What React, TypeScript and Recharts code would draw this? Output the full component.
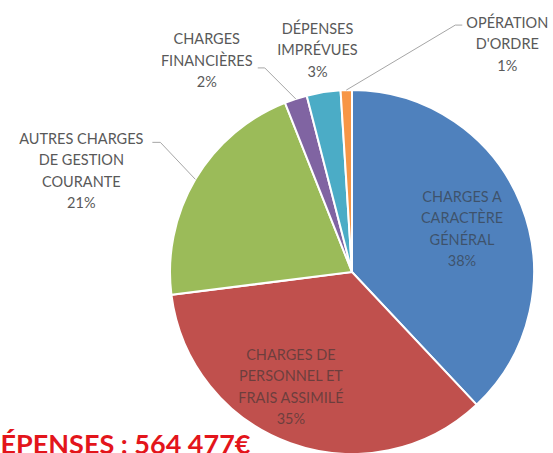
import { PieChart, Pie, Cell } from 'recharts';

const CATEGORIES = [
  'CHARGES A CARACTÈRE GÉNÉRAL',
  'CHARGES DE PERSONNEL ET FRAIS ASSIMILÉ',
  'AUTRES CHARGES DE GESTION COURANTE',
  'CHARGES FINANCIÈRES',
  'DÉPENSES IMPRÉVUES',
  "OPÉRATION D'ORDRE",
];
const LABEL_LINES = [
  ['CHARGES A', 'CARACTÈRE', 'GÉNÉRAL'],
  ['CHARGES DE', 'PERSONNEL ET', 'FRAIS ASSIMILÉ'],
  ['AUTRES CHARGES', 'DE GESTION', 'COURANTE'],
  ['CHARGES', 'FINANCIÈRES'],
  ['DÉPENSES', 'IMPRÉVUES'],
  ['OPÉRATION', "D'ORDRE"],
];
const SHARES = [38, 35, 21, 2, 3, 1];
const COLORS = ['#4F81BD', '#C0504D', '#9BBB59', '#8064A2', '#4BACC6', '#F79646'];
const TOTAL_LABEL = 'DÉPENSES : 564 477€';

const data = CATEGORIES.map((name, i) => ({ name, value: SHARES[i] }));

const RAD = Math.PI / 180;
const FONT = 'Lato, "Open Sans", sans-serif';
const LINE_H = 21.5;

// label placement, offsets measured from the slice edge at its mid angle
type Layout =
  | { inside: true; r: number; dx: number; dy: number }
  | { inside: false; text: [number, number]; leader?: [number, number][] };

const LAYOUT: Layout[] = [
  { inside: true, r: 0.65, dx: 0, dy: 0 },
  { inside: true, r: 0.65, dx: -21, dy: 3 },
  { inside: false, text: [-114, -41], leader: [[-35, -37], [-43, -37]] },
  { inside: false, text: [-89, -60], leader: [[-31, -31], [-38, -31]] },
  { inside: false, text: [-6, -64] },
  { inside: false, text: [161, -68], leader: [[109, -65], [116, -65]] },
];

function renderLabel(props: any) {
  const { cx, cy, midAngle, outerRadius, percent, index } = props;
  const lay = LAYOUT[index];
  const lines = [...LABEL_LINES[index], `${Math.round(percent * 100)}%`];
  const cos = Math.cos(-midAngle * RAD);
  const sin = Math.sin(-midAngle * RAD);

  if (lay.inside) {
    const x = cx + outerRadius * lay.r * cos + lay.dx;
    const yMid = cy + outerRadius * lay.r * sin + lay.dy;
    const y0 = yMid - ((lines.length - 1) * LINE_H) / 2;
    return (
      <g key={`lbl-${index}`}>
        {lines.map((t, i) => (
          <text key={i} x={x} y={y0 + i * LINE_H} textAnchor="middle" dominantBaseline="central"
            fontFamily={FONT} fontSize={14.5} fill="#333333" fillOpacity={0.6}>
            {t}
          </text>
        ))}
      </g>
    );
  }

  const ex = cx + outerRadius * cos;
  const ey = cy + outerRadius * sin;
  const tx = ex + lay.text[0];
  const ty = ey + lay.text[1];
  const pts = lay.leader
    ? [[ex, ey], ...lay.leader.map(([dx, dy]) => [ex + dx, ey + dy])].map((p) => p.join(',')).join(' ')
    : null;
  return (
    <g key={`lbl-${index}`}>
      {pts && <polyline points={pts} fill="none" stroke="#a6a6a6" strokeWidth={1} />}
      {lines.map((t, i) => (
        <text key={i} x={tx} y={ty + i * LINE_H} textAnchor="middle" dominantBaseline="central"
          fontFamily={FONT} fontSize={14.5} fill="#595959">
          {t}
        </text>
      ))}
    </g>
  );
}

export default function App() {
  return (
    <div style={{ position: 'fixed', left: 0, top: 0, width: 553, height: 453, overflow: 'hidden', background: '#fff' }}>
      <PieChart width={553} height={453} margin={{ top: 0, right: 0, bottom: 0, left: 0 }}>
        <Pie
          data={data}
          dataKey="value"
          nameKey="name"
          cx={352}
          cy={272}
          outerRadius={182}
          startAngle={90}
          endAngle={-270}
          stroke="#ffffff"
          strokeWidth={2}
          label={renderLabel}
          labelLine={false}
          isAnimationActive={false}
        >
          {data.map((d, i) => (
            <Cell key={d.name} fill={COLORS[i]} />
          ))}
        </Pie>
      </PieChart>
      {/* total sits half outside the frame, as in the source screenshot */}
      <div
        style={{
          position: 'absolute', left: -20, top: 430, fontFamily: FONT, fontWeight: 700,
          fontSize: 27, lineHeight: '27px', color: '#e3151b', whiteSpace: 'nowrap',
        }}
      >
        {TOTAL_LABEL}
      </div>
    </div>
  );
}
